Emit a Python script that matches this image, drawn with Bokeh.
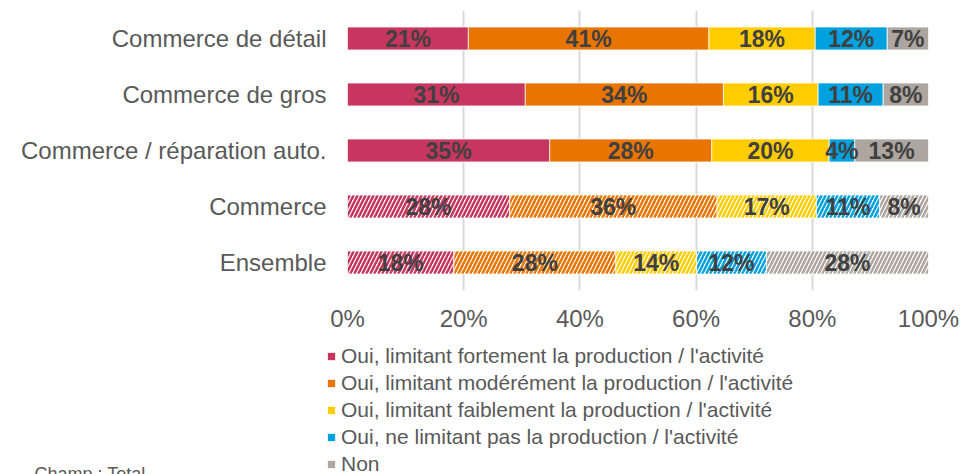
from bokeh.plotting import figure
from bokeh.models import (ColumnDataSource, FactorRange, Range1d, FixedTicker,
                          PrintfTickFormatter, LabelSet, Legend, LegendItem, Label)
from bokeh.core.properties import value
from bokeh.embed import file_html
from bokeh.resources import INLINE

# ---------------- data ----------------
categories = ["Commerce de détail", "Commerce de gros", "Commerce / réparation auto.",
              "Commerce", "Ensemble"]
hatched_categories = ["Commerce", "Ensemble"]

series_keys = ["fortement", "moderement", "faiblement", "pas", "non"]
series_names = [
    "Oui, limitant fortement la production / l'activité",
    "Oui, limitant modérément la production / l'activité",
    "Oui, limitant faiblement la production / l'activité",
    "Oui, ne limitant pas la production / l'activité",
    "Non",
]
fortement = [20.8, 30.6, 34.8, 27.9, 18.3]
moderement = [41.4, 34.1, 27.9, 35.7, 27.9]
faiblement = [18.3, 16.3, 20.2, 17.1, 13.9]
pas = [12.4, 11.2, 4.4, 10.9, 12.0]
non = [7.1, 7.8, 12.7, 8.4, 27.9]
colors = ["#C8365F", "#E97500", "#FFCC00", "#00A1DE", "#ADA59F"]
x_ticks = [0, 20, 40, 60, 80, 100]
note_text = "Champ : Total"

data = dict(zip(series_keys, [fortement, moderement, faiblement, pas, non]))

FONT = "Liberation Sans"
TXT = "#595959"

# ---------------- chart ----------------
p = figure(width=960, height=336, output_backend="svg", toolbar_location=None,
           y_range=FactorRange(factors=list(reversed(categories))),
           x_range=Range1d(0, 100),
           min_border_left=347, min_border_right=32, min_border_top=10, min_border_bottom=46)
p.outline_line_color = None
p.background_fill_color = "white"
p.border_fill_color = "white"

solid_idx = [i for i, c in enumerate(categories) if c not in hatched_categories]
hatch_idx = [i for i, c in enumerate(categories) if c in hatched_categories]


def make_src(idx):
    d = {"cat": [categories[i] for i in idx]}
    for k in series_keys:
        d[k] = [data[k][i] for i in idx]
    return ColumnDataSource(d)


src_solid = make_src(solid_idx)
src_hatch = make_src(hatch_idx)

solid_r = p.hbar_stack(series_keys, y="cat", height=0.41, source=src_solid,
                       fill_color=colors, line_color="white", line_width=0.75)
hatch_r = p.hbar_stack(series_keys, y="cat", height=0.41, source=src_hatch,
                       fill_color="white", hatch_color=colors, hatch_pattern="/",
                       hatch_scale=8, hatch_weight=2.5, line_color="white", line_width=0.75)

lx, ly, lt = [], [], []
for i, c in enumerate(categories):
    left = 0.0
    for k in series_keys:
        v = data[k][i]
        lx.append(left + v / 2)
        ly.append(c)
        lt.append(f"{round(v)}%")
        left += v
lab_src = ColumnDataSource(dict(x=lx, y=ly, t=lt))
p.add_layout(LabelSet(x="x", y="y", text="t", source=lab_src, text_align="center",
                      text_baseline="middle", text_font=value(FONT),
                      text_font_size=value("23px"), text_font_style=value("bold"),
                      text_color=value("#404040")))

p.xaxis.ticker = FixedTicker(ticks=x_ticks)
p.xaxis.formatter = PrintfTickFormatter(format="%d%%")
p.xaxis.axis_line_color = None
p.xaxis.major_tick_line_color = None
p.xaxis.minor_tick_line_color = None
p.xaxis.major_tick_out = 0
p.xaxis.major_label_standoff = 14
p.xaxis.major_label_text_font = FONT
p.xaxis.major_label_text_font_size = "24px"
p.xaxis.major_label_text_color = TXT

p.yaxis.axis_line_color = None
p.yaxis.major_tick_line_color = None
p.yaxis.major_tick_out = 0
p.yaxis.major_label_standoff = 21
p.yaxis.major_label_text_font = FONT
p.yaxis.major_label_text_font_size = "24px"
p.yaxis.major_label_text_color = TXT

p.ygrid.grid_line_color = None
p.xgrid.grid_line_color = "#D9D9D9"
p.xgrid.grid_line_width = 2

# ---------------- legend strip (separate root, frame = whole canvas) ----------------
q = figure(width=960, height=138, output_backend="svg", toolbar_location=None,
           x_range=Range1d(0, 960), y_range=Range1d(0, 138),
           x_axis_type=None, y_axis_type=None,
           min_border_left=0, min_border_right=0, min_border_top=0, min_border_bottom=0)
q.outline_line_color = None
q.grid.visible = False
q.background_fill_color = "white"
q.border_fill_color = "white"

# swatch renderers (their single bar lies outside the visible range)
swatches = [q.hbar(y=[-100], right=[1], height=1, fill_color=c, line_color="white",
                   line_width=0.75) for c in colors]
items = [LegendItem(label=n, renderers=[r]) for n, r in zip(series_names, swatches)]
legend = Legend(items=items, location=(326, -3), orientation="vertical",
                glyph_width=10, glyph_height=10, label_standoff=5, label_height=27,
                spacing=0, padding=0, margin=0, border_line_color=None,
                background_fill_alpha=0, label_text_font=FONT,
                label_text_font_size="21px", label_text_color=TXT)
q.add_layout(legend, "center")

q.add_layout(Label(x=34, y=1, x_units="screen", y_units="screen", text=note_text,
                   text_font=FONT, text_font_size="18px", text_color=TXT,
                   text_baseline="alphabetic"))

open("out.html", "w").write(file_html([p, q], INLINE))
